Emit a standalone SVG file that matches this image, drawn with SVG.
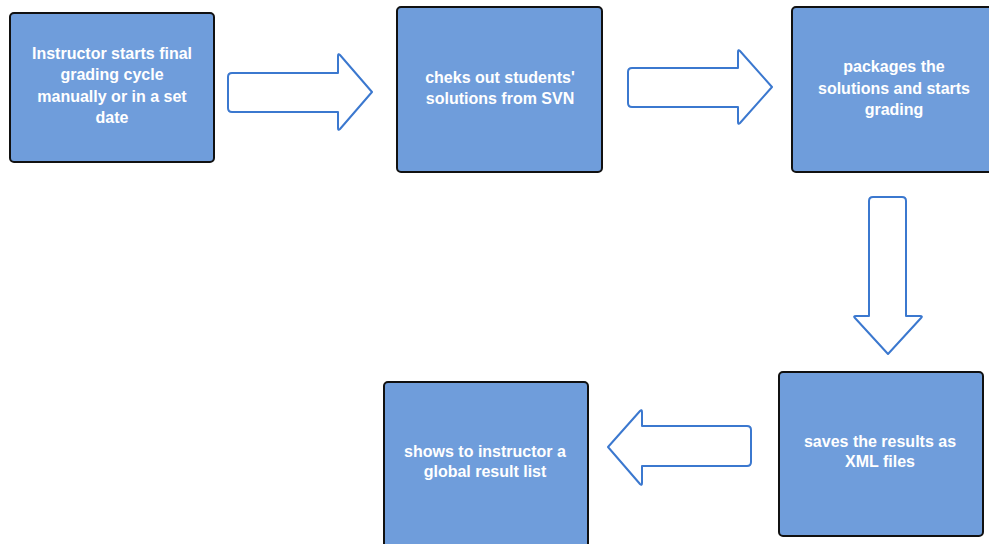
<svg xmlns="http://www.w3.org/2000/svg" width="989" height="544" viewBox="0 0 989 544">
  <style>
    .box { fill: #6f9ddb; stroke: #111; stroke-width: 2; }
    .lbl { font-family: "Liberation Sans", Arial, sans-serif; font-weight: bold; font-size: 16px; fill: #ffffff; text-anchor: middle; }
    .arrow { fill: #ffffff; stroke: #3b78cf; stroke-width: 2; stroke-linejoin: round; }
  </style>
  <rect width="989" height="544" fill="#ffffff"/>

  <g id="connectors">
    <!-- right arrow 1 -->
    <path class="arrow" d="M232,73 L338,73 L338,56 Q338,53 340,55 L372,92 L340,129 Q338,131 338,128 L338,112 L232,112 Q228,112 228,108 L228,77 Q228,73 232,73 Z"/>
    <!-- right arrow 2 -->
    <path class="arrow" d="M632,68 L738,68 L738,52 Q738,49 740,51 L772,87 L740,123 Q738,125 738,122 L738,107 L632,107 Q628,107 628,103 L628,72 Q628,68 632,68 Z"/>
    <!-- down arrow -->
    <path class="arrow" d="M873,197 L902,197 Q906,197 906,201 L906,316 L920,316 Q923,316 921,318 L888,354 L855,318 Q853,316 856,316 L869,316 L869,201 Q869,197 873,197 Z"/>
    <!-- left arrow -->
    <path class="arrow" d="M747,426 Q751,426 751,430 L751,462 Q751,466 747,466 L642,466 L642,483 Q642,486 640,484 L608,447 L640,411 Q642,409 642,412 L642,426 Z"/>
  </g>

  <g id="node-start">
    <rect class="box" x="10" y="13" width="204" height="149" rx="4"/>
    <text class="lbl" x="112" y="59">Instructor starts final</text>
    <text class="lbl" x="112" y="80">grading cycle</text>
    <text class="lbl" x="112" y="102">manually or in a set</text>
    <text class="lbl" x="112" y="123">date</text>
  </g>

  <g id="node-checkout">
    <rect class="box" x="397" y="7" width="205" height="165" rx="4"/>
    <text class="lbl" x="500" y="83">cheks out students'</text>
    <text class="lbl" x="500" y="104">solutions from SVN</text>
  </g>

  <g id="node-package">
    <rect class="box" x="792" y="7" width="205" height="165" rx="4"/>
    <text class="lbl" x="894" y="72">packages the</text>
    <text class="lbl" x="894" y="94">solutions and starts</text>
    <text class="lbl" x="894" y="115">grading</text>
  </g>

  <g id="node-save">
    <rect class="box" x="779" y="372" width="204" height="164" rx="4"/>
    <text class="lbl" x="880" y="447">saves the results as</text>
    <text class="lbl" x="880" y="467">XML files</text>
  </g>

  <g id="node-show">
    <rect class="box" x="384" y="382" width="204" height="170" rx="4"/>
    <text class="lbl" x="485" y="457">shows to instructor a</text>
    <text class="lbl" x="485" y="477">global result list</text>
  </g>
</svg>
